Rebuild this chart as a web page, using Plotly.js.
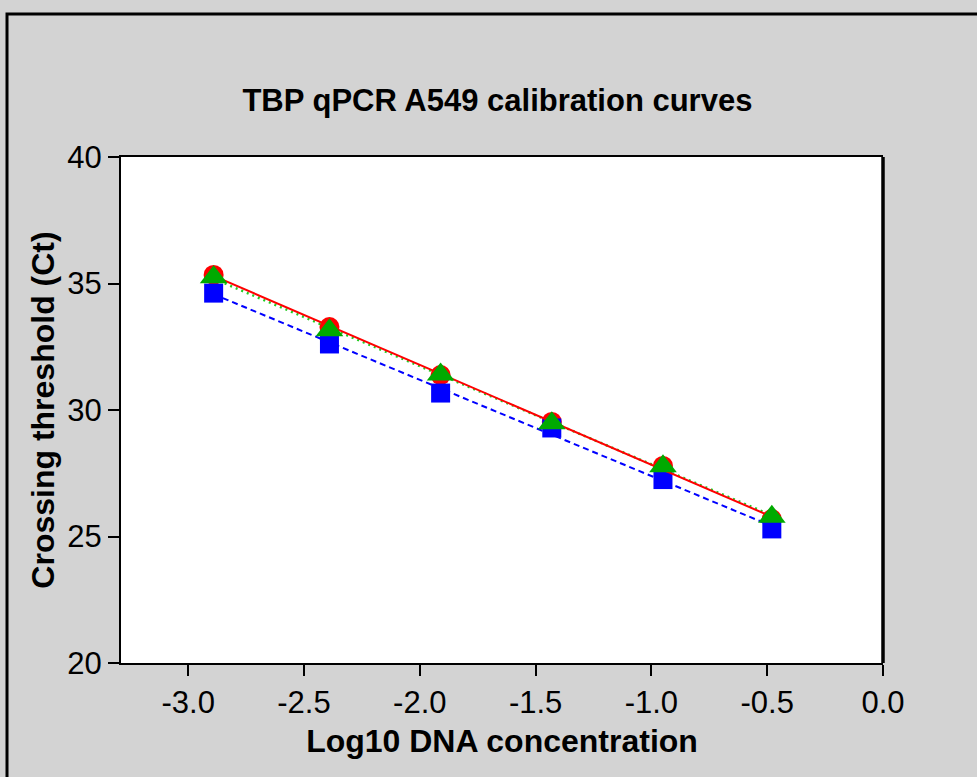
<!DOCTYPE html>
<html>
<head>
<meta charset="utf-8">
<script src="https://cdn.plot.ly/plotly-3.0.1.min.js"></script>
<style>
  html, body { margin: 0; padding: 0; background: #d3d3d3; }
  #chart { width: 977px; height: 777px; }
</style>
</head>
<body>
<div id="chart"></div>
<script>
// Data
const logConc = [-2.89, -2.39, -1.91, -1.43, -0.95, -0.48];
const ctRed   = [35.34, 33.28, 31.38, 29.53, 27.79, 25.69];
const ctBlue  = [34.62, 32.61, 30.67, 29.29, 27.25, 25.30];
const ctGreen = [35.25, 33.15, 31.40, 29.48, 27.78, 25.78];
const xTicks = [-3.0, -2.5, -2.0, -1.5, -1.0, -0.5, 0.0];
const yTicks = [20, 25, 30, 35, 40];

function fit(xs, ys) {
  const n = xs.length;
  const mx = xs.reduce((a, b) => a + b, 0) / n;
  const my = ys.reduce((a, b) => a + b, 0) / n;
  let sxy = 0, sxx = 0;
  for (let i = 0; i < n; i++) { sxy += (xs[i] - mx) * (ys[i] - my); sxx += (xs[i] - mx) ** 2; }
  const m = sxy / sxx, b = my - m * mx;
  const x0 = Math.min(...xs), x1 = Math.max(...xs);
  return { x: [x0, x1], y: [m * x0 + b, m * x1 + b] };
}

const fr = fit(logConc, ctRed), fb = fit(logConc, ctBlue), fg = fit(logConc, ctGreen);

const FONT = 'Liberation Sans, Arial, sans-serif';

const traces = [
  { x: logConc, y: ctRed, mode: 'markers', type: 'scatter',
    marker: { symbol: 'circle', size: 20, color: '#ff0000', line: { width: 0 } }, showlegend: false },
  { x: logConc, y: ctBlue, mode: 'markers', type: 'scatter',
    marker: { symbol: 'square', size: 19, color: '#0000ff', line: { width: 0 } }, showlegend: false },
  { x: fb.x, y: fb.y, mode: 'lines', type: 'scatter',
    line: { color: '#0000ff', width: 2, dash: '6px,4px' }, showlegend: false },
  { x: fg.x, y: fg.y, mode: 'lines', type: 'scatter',
    line: { color: '#22cc22', width: 2.5, dash: '2px,4px' }, showlegend: false },
  { x: fr.x, y: fr.y, mode: 'lines', type: 'scatter',
    line: { color: '#ff0000', width: 2 }, showlegend: false },
  { x: logConc, y: ctGreen, mode: 'markers', type: 'scatter',
    marker: { symbol: 'triangle-up', size: 24, color: '#00aa00', line: { width: 0 } }, showlegend: false }
];

const layout = {
  width: 977, height: 777,
  margin: { l: 121, r: 94, t: 157, b: 114 },
  paper_bgcolor: '#d3d3d3',
  plot_bgcolor: '#ffffff',
  font: { family: FONT, color: '#000000' },
  title: {
    text: '<b>TBP qPCR A549 calibration curves</b>',
    font: { family: FONT, size: 31, color: '#000000' },
    x: 0.494, xref: 'paper', xanchor: 'center',
    y: 0.871, yref: 'container', yanchor: 'middle'
  },
  xaxis: {
    range: [-3.29, 0],
    tickvals: xTicks,
    ticktext: xTicks.map(v => v.toFixed(1)),
    ticks: 'outside', ticklen: 11, tickwidth: 2, tickcolor: '#000',
    showline: true, linewidth: 2, linecolor: '#000', mirror: true,
    showgrid: false, zeroline: false,
    tickfont: { family: FONT, size: 31, color: '#000' },
    title: { text: '<b>Log10 DNA concentration</b>', font: { family: FONT, size: 32, color: '#000' }, standoff: 10 }
  },
  yaxis: {
    range: [20, 40],
    tickvals: yTicks,
    ticks: 'outside', ticklen: 11, tickwidth: 2, tickcolor: '#000',
    showline: true, linewidth: 2, linecolor: '#000',
    showgrid: false, zeroline: false,
    tickfont: { family: FONT, size: 31, color: '#000' },
    title: { text: '<b>Crossing threshold (Ct)</b>', font: { family: FONT, size: 32, color: '#000' }, standoff: 3 }
  },
  shapes: [
    { type: 'line', xref: 'paper', yref: 'paper', x0: 1, x1: 1, y0: 0, y1: 1,
      line: { color: '#000', width: 3.5 } },
    { type: 'rect', xref: 'paper', yref: 'paper',
      x0: -0.1496, x1: 1.2, y0: -0.3, y1: 1.2826,
      line: { color: '#000', width: 3 }, fillcolor: 'rgba(0,0,0,0)', layer: 'below' }
  ]
};

Plotly.newPlot('chart', traces, layout, { displayModeBar: false, staticPlot: true });
</script>
</body>
</html>
